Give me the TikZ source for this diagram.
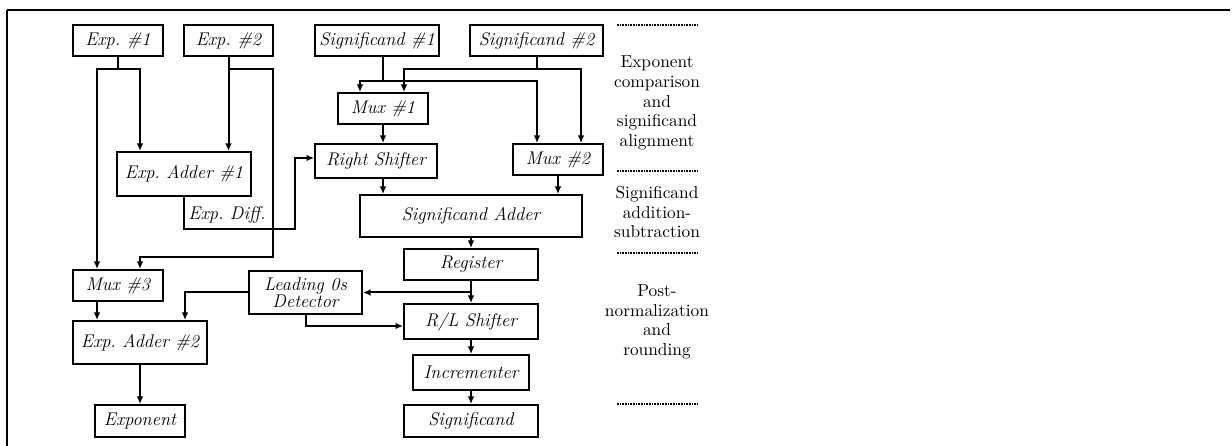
\documentclass[tikz,border=0pt]{standalone}
\usetikzlibrary{calc,arrows.meta}
\tikzset{
  blk/.style 2 args={draw, line width=1.2pt, inner sep=0pt, align=center,
    font=\fontsize{11}{10.4}\selectfont\itshape, minimum width=#1*0.6pt, minimum height=#2*0.6pt},
  arr/.style={line width=1.2pt, -{Latex[length=4.5pt,width=4pt]}},
  sep/.style={line width=1pt, dash pattern=on 0.9pt off 0.7pt},
  lbl/.style={align=center, inner sep=0pt, font=\fontsize{10.4}{11.8}\selectfont},
}
\begin{document}
\begin{tikzpicture}[x=0.6pt,y=-0.6pt]
\useasboundingbox (0,0) rectangle (1232,446);
% frame
\draw[line width=0.7pt] (7,10) -- (747,10);
\draw[line width=1.3pt] (747,10) -- (1230,10);
\draw[line width=1.3pt] (7,10) -- (7,446);

% blocks
\node[blk={90}{31}]  (e1)  at (118,40.5)   {Exp.\ \#1};
\node[blk={89}{31}]  (e2)  at (228.5,40.5) {Exp.\ \#2};
\node[blk={124}{31}] (s1)  at (377,40.5)   {Significand \#1};
\node[blk={133}{31}] (s2)  at (536.5,40.5) {Significand \#2};
\node[blk={90}{31}]  (m1)  at (383,108.5)  {Mux \#1};
\node[blk={134}{44}] (ea1) at (184,174)    {Exp.\ Adder \#1};
\node[blk={122}{34}] (rs)  at (376,161)    {Right Shifter};
\node[blk={90}{31}]  (m2)  at (558,159.5)  {Mux \#2};
\node[blk={222}{42}] (sa)  at (471,216)    {Significand Adder};
\node[blk={134}{31}] (reg) at (471,264.5)  {Register};
\node[blk={90}{31}]  (m3)  at (118,285.5)  {Mux \#3};
\node[blk={113}{43}] (lz)  at (305.5,292.5){Leading 0s\\Detector};
\node[blk={134}{35}] (rl)  at (471,321.5)  {R/L Shifter};
\node[blk={134}{43}] (ea2) at (140,342.5)  {Exp.\ Adder \#2};
\node[blk={116}{35}] (inc) at (471,372.5)  {Incrementer};
\node[blk={90}{32}]  (exo) at (140,421)    {Exponent};
\node[blk={134}{32}] (sig) at (471,421)    {Significand};

% exponent path
\draw[arr] (e1.south) -- ++(0,12) -| ($(m3.north)+(-21,0)$);
\draw[arr] (e1.south) ++(0,12) -| ($(ea1.north)+(-44,0)$);
\draw[arr] (e2.south) -- (e2.south |- ea1.north);
\draw[arr] (e2.south) ++(0,12) -- ++(44.5,0) |- ($(m3.north)+(22,-12)$) -- ($(m3.north)+(22,0)$);
\draw[arr] (ea1.south) -- ++(0,32) -- ++(111,0) |- ($(rs.west)+(0,-3)$);
\node[font=\fontsize{11}{13}\selectfont\itshape, inner sep=0pt] (ed) at (227,215) {Exp.\ Diff.};

% significand inputs
\draw[arr] ($(s1.south)+(6,0)$) -- ++(0,24) -| ($(m1.north)+(-23,0)$);
\draw[arr] ($(s1.south)+(6,0)$) ++(0,24) -| ($(m2.north)+(-21,0)$);
\draw[arr] (s2.south) -- ++(0,12) -| ($(m1.north)+(21,0)$);
\draw[arr] (s2.south) ++(0,12) -| ($(m2.north)+(23,0)$);

\draw[arr] (m1.south) -- (m1.south |- rs.north);
\draw[arr] (m1.south |- rs.south) -- (m1.south |- sa.north);
\draw[arr] (m2.south) -- (m2.south |- sa.north);
\draw[arr] (sa.south) -- (reg.north);
\draw[arr] (reg.south) -- (rl.north);
\draw[arr] (reg.south |- lz.east) -- (lz.east);
\draw[arr] (lz.west) -| ($(ea2.north)+(45,0)$);
\draw[arr] (lz.south) |- ($(rl.west)+(0,4.5)$);
\draw[arr] ($(m3.south)+(-21,0)$) -- ($(ea2.north)+(-43,0)$);
\draw[arr] (ea2.south) -- (exo.north);
\draw[arr] (rl.south) -- (inc.north);
\draw[arr] (inc.south) -- (sig.north);

% stage labels
\draw[sep] (617,25) -- (698,25);
\draw[sep] (617,171) -- (698,171);
\draw[sep] (617,253) -- (698,253);
\draw[sep] (617,404) -- (698,404);
\node[lbl] (t1) at (657,103) {Exponent\\comparison\\and\\significand\\alignment};
\node[lbl] (t2) at (657,212) {Significand\\addition-\\subtraction};
\node[lbl] (t3) at (657,322) {Post-\\normalization\\and\\rounding};
\end{tikzpicture}
\end{document}
